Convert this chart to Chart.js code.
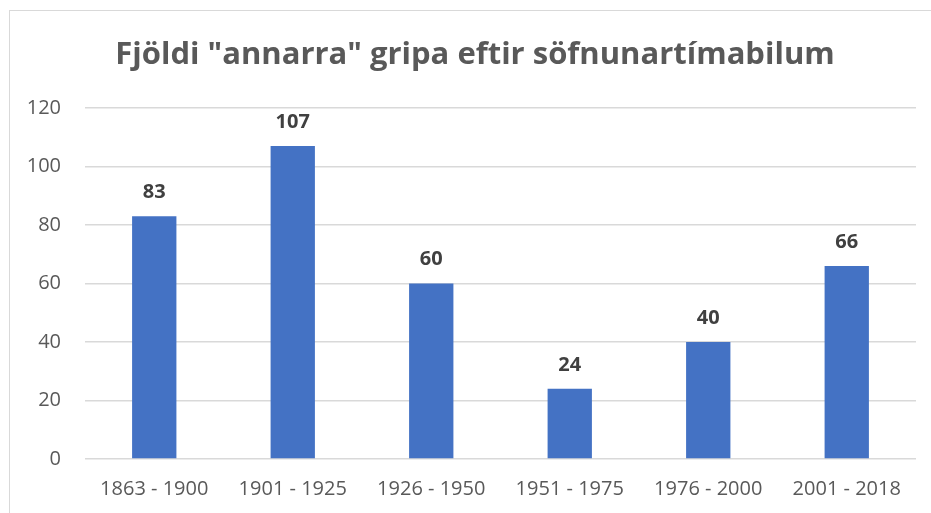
<!DOCTYPE html>
<html>
<head>
<meta charset="utf-8">
<script src="https://cdn.jsdelivr.net/npm/chart.js@4/dist/chart.umd.min.js"></script>
<style>
  body { margin: 0; background: #fff; }
  #wrap { position: relative; width: 931px; height: 513px; overflow: hidden; }
  #frame { position: absolute; left: 9px; top: 10px; width: 960px; height: 560px; border: 1px solid #d9d9d9; }
  canvas { position: absolute; left: 0; top: 0; }
</style>
</head>
<body>
<div id="wrap">
  <div id="frame"></div>
  <canvas id="chart" width="931" height="513"></canvas>
</div>
<script>
// söfnunartímabil og fjöldi gripa
const periods = ["1863 - 1900", "1901 - 1925", "1926 - 1950", "1951 - 1975", "1976 - 2000", "2001 - 2018"];
const counts = [83, 107, 60, 24, 40, 66];
const yTicks = [0, 20, 40, 60, 80, 100, 120];
const titleText = 'Fjöldi "annarra" gripa eftir söfnunartímabilum';

const fontName = "'Open Sans', 'DejaVu Sans', sans-serif";

// draws the title and the numbers above the bars
const valueLabels = {
  id: "valueLabels",
  afterDatasetsDraw(chart) {
    let ctx = chart.ctx;
    let meta = chart.getDatasetMeta(0);
    ctx.save();
    ctx.font = "bold 20px " + fontName;
    ctx.fillStyle = "#404040";
    ctx.textAlign = "center";
    ctx.textBaseline = "middle";
    meta.data.forEach(function (bar, i) {
      ctx.fillText(counts[i], bar.x, bar.y - 24);
    });
    ctx.font = "bold 31px " + fontName;
    ctx.fillStyle = "#595959";
    ctx.fillText(titleText, 475, 55);
    ctx.restore();
  },
};

new Chart(document.getElementById("chart"), {
  type: "bar",
  data: {
    labels: periods,
    datasets: [
      {
        data: counts,
        backgroundColor: "#4472C4",
        categoryPercentage: 1,
        barPercentage: 0.32,
      },
    ],
  },
  options: {
    responsive: false,
    animation: false,
    layout: { padding: { left: 0, right: 15, top: 108, bottom: 0 } },
    plugins: {
      legend: { display: false },
      tooltip: { enabled: false },
      title: { display: false },
    },
    scales: {
      x: {
        grid: { display: false, drawTicks: false },
        border: { display: false },
        ticks: {
          color: "#595959",
          font: { family: fontName, size: 20 },
          padding: 18,
          maxRotation: 0,
          autoSkip: false,
        },
        afterFit: function (scale) {
          scale.height = 54;
        },
      },
      y: {
        min: 0,
        max: 120,
        afterBuildTicks: function (scale) {
          scale.ticks = yTicks.map(function (v) {
            return { value: v };
          });
        },
        grid: { color: "#d9d9d9", lineWidth: 1.5, drawTicks: false },
        border: { display: false },
        ticks: {
          color: "#595959",
          font: { family: fontName, size: 20 },
          padding: 24,
        },
        afterFit: function (scale) {
          scale.width = 85;
        },
      },
    },
  },
  plugins: [valueLabels],
});
</script>
</body>
</html>
